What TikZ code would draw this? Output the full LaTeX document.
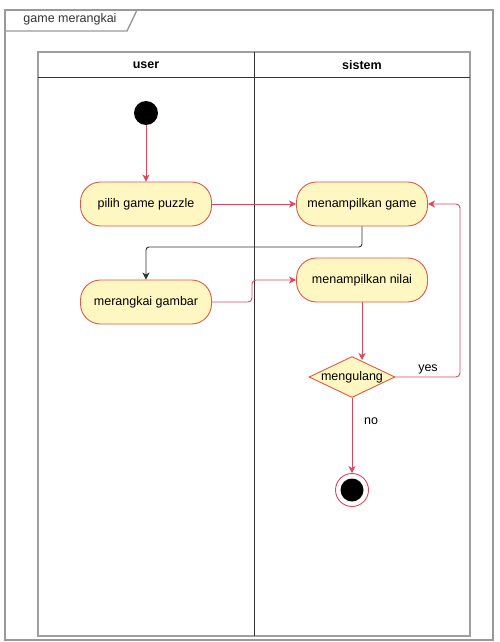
\documentclass[tikz,border=0pt]{standalone}
\usepackage{fontspec}
\setmainfont{Liberation Sans}
\usetikzlibrary{shapes.geometric,arrows.meta}
\definecolor{umlred}{HTML}{D9475F}
\definecolor{umlborder}{HTML}{DC5A48}
\definecolor{umlfill}{HTML}{FFF7C2}
\begin{document}
\begin{tikzpicture}[x=1pt,y=-1pt,
  every node/.style={font=\fontsize{12.5}{14}\selectfont},
  act/.style={rectangle, rounded corners=20pt, draw=umlborder, fill=umlfill, line width=0.9pt, minimum width=131pt, minimum height=44pt, inner sep=0pt},
  dec/.style={diamond, draw=umlborder, fill=umlfill, line width=0.9pt, minimum width=86pt, minimum height=41pt, inner sep=0pt},
  startnode/.style={circle, fill=black, minimum size=24pt, inner sep=0pt},
  endnode/.style={circle, draw=umlred, fill=white, line width=0.9pt, minimum size=33pt, inner sep=0pt},
  flow/.style={draw=umlred, line width=0.9pt, -{Stealth[length=7pt,width=7pt,inset=2pt]}},
  blackflow/.style={draw=black!80, line width=0.9pt, -{Stealth[length=7pt,width=7pt,inset=2pt]}},
  framec/.style={draw=gray!80, line width=1.4pt},
  lanec/.style={draw=gray!75, line width=1.3pt},
  lanediv/.style={draw=black!80, line width=0.8pt},
  lbl/.style={inner sep=0pt}]
\useasboundingbox (0,0) rectangle (500,642);
% frame
\draw[framec] (5,10) rectangle (493,640);
\draw[framec] (5,31) -- (127,31) -- (137,10);
\node[lbl, text=black!80] (title) at (70,19) {game merangkai};
% swimlanes
\draw[lanec] (38,52) rectangle (470,636);
\draw[lanediv] (38,77) -- (470,77);
\draw[lanediv] (254,52) -- (254,636);
\node[lbl] (huser) at (146,65) {\bfseries user};
\node[lbl] (hsis) at (362,65) {\bfseries sistem};
% nodes
\node[startnode] (start) at (146,113) {};
\node[act] (pilih) at (146,204) {pilih game puzzle};
\node[act] (rangkai) at (146,302) {merangkai gambar};
\node[act] (game) at (362,204) {menampilkan game};
\node[act] (nilai) at (362,280) {menampilkan nilai};
\node[dec] (ulang) at (352,377) {};
\node[lbl] (ulangtxt) at (352,377) {mengulang};
\node[endnode] (end) at (352,490) {};
\fill[black] (end.center) circle (11.5pt);
% edges
\draw[flow] (start) -- (pilih);
\draw[flow] (pilih) -- (game);
\draw[blackflow, rounded corners=3pt] (game.south) -- (game.south |- 0,247) -| (rangkai.north);
\draw[flow, rounded corners=4pt] (rangkai.east) -| (252,280) -- (nilai.west);
\draw[flow] (nilai.south) -- (nilai.south |- 0,360);
\draw[flow, rounded corners=4pt] (ulang.east) -- (ulang.east -| 460,0) |- (game.east);
\node[lbl] (yes) at (428,369) {yes};
\draw[flow] (ulang.south) -- (end);
\node[lbl] (no) at (371,421) {no};
\end{tikzpicture}
\end{document}
